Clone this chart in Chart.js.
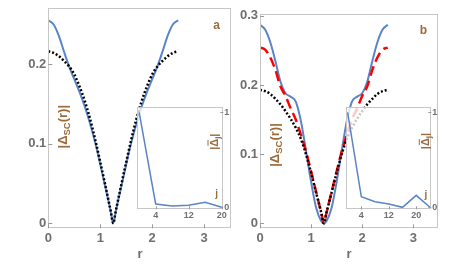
<!DOCTYPE html>
<html>
<head>
<meta charset="utf-8">
<script src="https://cdn.jsdelivr.net/npm/chart.js@4.4.1/dist/chart.umd.min.js"></script>
<style>
  html, body { margin: 0; padding: 0; background: #fff; }
  #wrap { position: relative; width: 471px; height: 269px; overflow: hidden; }
  canvas { position: absolute; }
</style>
</head>
<body>
<div id="wrap">
  <canvas id="mainA" style="left:0;top:0" width="240" height="269"></canvas>
  <canvas id="mainB" style="left:232px;top:0" width="239" height="269"></canvas>
  <canvas id="insetA" style="left:125px;top:100px" width="115" height="125"></canvas>
  <canvas id="insetB" style="left:335px;top:100px" width="115" height="125"></canvas>
</div>
<script>
// radial coordinate r
const rVals = [0, 0.1, 0.2, 0.3, 0.4, 0.5, 0.6, 0.7, 0.8, 0.9, 1.0, 1.1, 1.2, 1.25,
  1.3, 1.4, 1.5, 1.6, 1.7, 1.8, 1.9, 2.0, 2.1, 2.2, 2.3, 2.4, 2.5];

// panel a
const blueA = [0.255, 0.250, 0.236, 0.216, 0.197, 0.181, 0.165, 0.147, 0.126, 0.102, 0.074, 0.045, 0.015, 0,
  0.015, 0.045, 0.074, 0.102, 0.126, 0.147, 0.165, 0.181, 0.197, 0.216, 0.236, 0.250, 0.255];
const dotA = [0.216, 0.214, 0.210, 0.204, 0.197, 0.187, 0.172, 0.154, 0.132, 0.106, 0.077, 0.047, 0.016, 0,
  0.016, 0.047, 0.077, 0.106, 0.132, 0.154, 0.172, 0.187, 0.197, 0.204, 0.210, 0.214, 0.216];

// panel b
const blueB = [0.287, 0.280, 0.262, 0.235, 0.205, 0.188, 0.183, 0.176, 0.148, 0.105, 0.060, 0.022, 0.003, 0,
  0.003, 0.022, 0.060, 0.105, 0.148, 0.176, 0.183, 0.188, 0.205, 0.235, 0.262, 0.280, 0.287];
const redB = [0.254, 0.251, 0.240, 0.222, 0.198, 0.184, 0.166, 0.150, 0.128, 0.104, 0.075, 0.045, 0.015, 0,
  0.015, 0.045, 0.075, 0.104, 0.128, 0.150, 0.166, 0.184, 0.198, 0.222, 0.240, 0.251, 0.254];
const dotB = [0.193, 0.191, 0.187, 0.180, 0.172, 0.162, 0.151, 0.138, 0.122, 0.100, 0.073, 0.044, 0.015, 0,
  0.015, 0.044, 0.073, 0.100, 0.122, 0.138, 0.151, 0.162, 0.172, 0.180, 0.187, 0.191, 0.193];

// insets
const jA = [0, 4, 8, 12, 16, 20];
const insetA = [1.0, 0.035, 0.014, 0.021, 0.053, 0.0];
const jB = [0, 4, 8, 12, 16, 20, 24];
const insetB = [1.0, 0.111, 0.059, 0.035, 0.0, 0.126, 0.0];

// ticks
const xTicksMain = [0, 1, 2, 3];
const yTicksA = [0, 0.1, 0.2];
const yTicksB = [0, 0.1, 0.2, 0.3];
const jTicks = [4, 12, 20];
const insetYTicks = [0, 1];

const FONT = "'Liberation Sans', Arial, sans-serif";
const blue = "#5a84c6";
const brown = "#9c6b3c";
const gray = "#6f6f6f";
const frameColor = "#c6c6c6";

function pts(xs, ys) {
  return xs.map((x, i) => ({ x, y: ys[i] }));
}

// draw a rotated label made of parts (for subscripts / overbars)
function drawRich(ctx, t) {
  ctx.save();
  ctx.translate(t.x, t.y);
  if (t.rot) ctx.rotate(t.rot);
  ctx.fillStyle = t.color;
  ctx.strokeStyle = t.color;
  ctx.textBaseline = "alphabetic";
  let total = 0;
  t.parts.forEach(p => { ctx.font = p.font; p.w = ctx.measureText(p.t).width; total += p.w; });
  let x = -total / 2;
  t.parts.forEach(p => {
    ctx.font = p.font;
    ctx.fillText(p.t, x, (p.dy || 0) + (t.base || 0));
    if (p.bar) {
      ctx.lineWidth = 1;
      ctx.beginPath();
      ctx.moveTo(x + 1, (t.base || 0) - p.bar);
      ctx.lineTo(x + p.w - 1, (t.base || 0) - p.bar);
      ctx.stroke();
    }
    x += p.w;
  });
  ctx.restore();
}

const deco = {
  id: "deco",
  beforeDatasetsDraw(chart, args, opts) {
    const { ctx, chartArea: a } = chart;
    if (opts.fill) {
      ctx.save();
      ctx.fillStyle = opts.fill;
      ctx.fillRect(a.left, a.top, a.right - a.left, a.bottom - a.top);
      ctx.restore();
    }
  },
  afterDraw(chart, args, opts) {
    const { ctx, chartArea: a } = chart;
    ctx.save();
    ctx.strokeStyle = frameColor;
    ctx.lineWidth = 1;
    ctx.strokeRect(Math.round(a.left) + 0.5, Math.round(a.top) + 0.5,
      Math.round(a.right - a.left) - 1, Math.round(a.bottom - a.top) - 1);
    // inward tick marks
    const len = opts.tickLen || 4;
    ctx.strokeStyle = "#9a9a9a";
    ctx.beginPath();
    chart.scales.x.ticks.forEach(t => {
      const px = Math.round(chart.scales.x.getPixelForValue(t.value)) + 0.5;
      ctx.moveTo(px, a.bottom);
      ctx.lineTo(px, a.bottom - len);
    });
    const ys = chart.scales.y;
    ys.ticks.forEach(t => {
      const py = Math.round(ys.getPixelForValue(t.value)) + 0.5;
      if (ys.position === "right") { ctx.moveTo(a.right, py); ctx.lineTo(a.right - len, py); }
      else { ctx.moveTo(a.left, py); ctx.lineTo(a.left + len, py); }
    });
    ctx.stroke();
    ctx.restore();
    (opts.texts || []).forEach(t => drawRich(ctx, t));
  }
};

function tickFont(size) {
  return { family: FONT, size, weight: "bold" };
}

const noGrid = { display: false, drawTicks: false, tickLength: 0 };

function mainOptions(yMin, yMax, xMax, yTicks, pad, yWidth, texts) {
  return {
    responsive: false,
    animation: false,
    layout: { padding: pad },
    plugins: { legend: { display: false }, tooltip: { enabled: false }, deco: { texts } },
    elements: { point: { radius: 0 } },
    scales: {
      x: {
        type: "linear", min: 0, max: xMax,
        grid: noGrid, border: { display: false },
        afterBuildTicks: s => { s.ticks = xTicksMain.map(v => ({ value: v })); },
        afterFit: s => { s.height = 269 - 228.3; s.paddingLeft = 0; s.paddingRight = 0; },
        ticks: { color: gray, font: tickFont(13), padding: 2, autoSkip: false, maxRotation: 0 },
        title: { display: true, text: "r", color: gray, font: tickFont(13), padding: { top: 0, bottom: 7 } }
      },
      y: {
        type: "linear", min: yMin, max: yMax,
        grid: noGrid, border: { display: false },
        afterBuildTicks: s => { s.ticks = yTicks.map(v => ({ value: v })); },
        afterFit: s => { s.width = yWidth; s.paddingTop = 0; s.paddingBottom = 0; },
        ticks: { color: gray, font: tickFont(13), padding: 2, autoSkip: false,
          callback: v => String(Math.round(v * 10) / 10) }
      }
    }
  };
}

function insetOptions(xMin, xMax, pad, yWidth, texts) {
  return {
    responsive: false,
    animation: false,
    layout: { padding: pad },
    plugins: { legend: { display: false }, tooltip: { enabled: false },
      deco: { texts, fill: "rgba(255,255,255,0.78)", tickLen: 3 } },
    elements: { point: { radius: 0 } },
    scales: {
      x: {
        type: "linear", min: xMin, max: xMax,
        grid: noGrid, border: { display: false },
        afterBuildTicks: s => { s.ticks = jTicks.map(v => ({ value: v })); },
        afterFit: s => { s.height = 125 - 109.3; s.paddingLeft = 0; s.paddingRight = 0; },
        ticks: { color: gray, font: tickFont(9), padding: 1, autoSkip: false, maxRotation: 0 }
      },
      y: {
        type: "linear", position: "right", min: -0.021, max: 1.053,
        grid: noGrid, border: { display: false },
        afterBuildTicks: s => { s.ticks = insetYTicks.map(v => ({ value: v })); },
        afterFit: s => { s.width = yWidth; s.paddingTop = 0; s.paddingBottom = 0; },
        ticks: { color: gray, font: tickFont(9), padding: 1, autoSkip: false }
      }
    }
  };
}

function scTitle(x, y) {
  return {
    x, y, rot: -Math.PI / 2, color: brown, base: 5,
    parts: [
      { t: "|Δ", font: "bold 13px " + FONT },
      { t: "SC", font: "bold 9.5px " + FONT, dy: 3 },
      { t: "(r)|", font: "bold 13px " + FONT }
    ]
  };
}

function jTitle(x, y) {
  return {
    x, y, rot: -Math.PI / 2, color: brown, base: 4,
    parts: [
      { t: "|", font: "bold 11px " + FONT },
      { t: "Δ", font: "bold 11px " + FONT, bar: 10 },
      { t: "j", font: "bold 8px " + FONT, dy: 2 },
      { t: "|", font: "bold 11px " + FONT }
    ]
  };
}

function letter(s, x, y, size) {
  return { x, y, color: brown, base: 4, parts: [{ t: s, font: "bold " + size + "px " + FONT }] };
}

const dotted = { borderColor: "#000", borderWidth: 2.5, borderDash: [2, 2], cubicInterpolationMode: "monotone" };
const dashed = { borderColor: "#ff0000", borderWidth: 2.5, borderDash: [10, 5], cubicInterpolationMode: "monotone" };
const solid = { borderColor: blue, borderWidth: 2, cubicInterpolationMode: "monotone" };

new Chart(document.getElementById("mainA"), {
  type: "line",
  data: {
    datasets: [
      { ...dotted, data: pts(rVals, dotA) },
      { ...solid, data: pts(rVals, blueA) }
    ]
  },
  options: mainOptions(-0.0063, 0.27, 3.53, yTicksA,
    { left: 0, top: 8.3, right: 8.3, bottom: 0 }, 48.3,
    [scTitle(61.7, 126.7), letter("a", 216.7, 25, 12)]),
  plugins: [deco]
});

new Chart(document.getElementById("mainB"), {
  type: "line",
  data: {
    datasets: [
      { ...dotted, data: pts(rVals, dotB) },
      { ...dashed, data: pts(rVals, redB) },
      { ...solid, data: pts(rVals, blueB) }
    ]
  },
  options: mainOptions(-0.0072, 0.3025, 3.49, yTicksB,
    { left: 0, top: 14, right: 239 - 206.3, bottom: 0 }, 28,
    [scTitle(42, 145), letter("b", 191.3, 30, 12)]),
  plugins: [deco]
});

new Chart(document.getElementById("insetA"), {
  type: "line",
  data: { datasets: [{ borderColor: blue, borderWidth: 1.5, data: pts(jA, insetA) }] },
  options: insetOptions(-0.45, 20.4, { left: 12.3, top: 7.3, right: 0, bottom: 0 }, 115 - 98.3,
    [jTitle(89, 41.7), letter("j", 91.7, 93.3, 10)]),
  plugins: [deco]
});

new Chart(document.getElementById("insetB"), {
  type: "line",
  data: { datasets: [{ borderColor: blue, borderWidth: 1.5, data: pts(jB, insetB) }] },
  options: insetOptions(-0.47, 24.4, { left: 11, top: 7.3, right: 0, bottom: 0 }, 115 - 96.3,
    [jTitle(90.3, 41), letter("j", 91, 94.3, 10)]),
  plugins: [deco]
});
</script>
</body>
</html>
